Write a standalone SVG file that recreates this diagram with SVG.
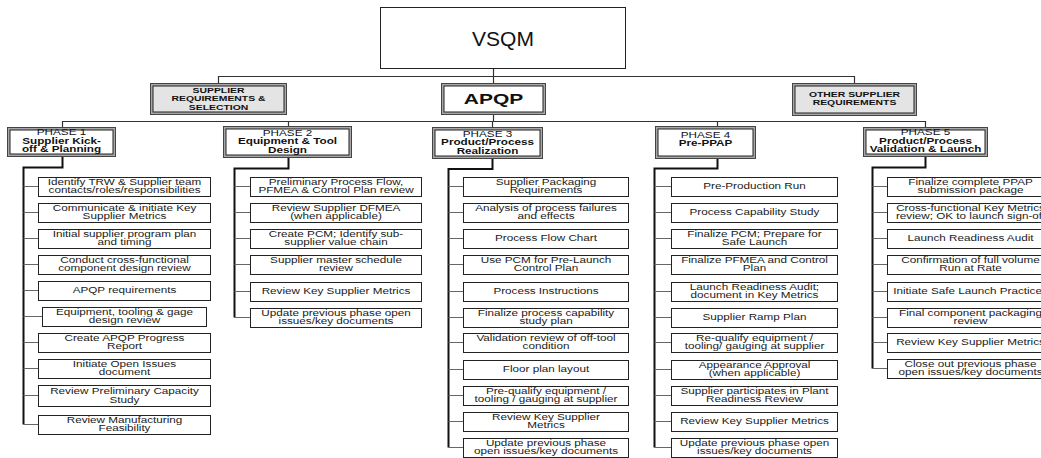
<svg xmlns="http://www.w3.org/2000/svg" width="1041" height="458" viewBox="0 0 1041 458">
<style>
.bg{fill:#fff}
.it rect{fill:#fff;stroke:#222;stroke-width:1}
.tx{font-family:"Liberation Sans",Arial,sans-serif;font-size:9px;fill:#1a1a1a;text-anchor:middle}
.ph .o{fill:#a8a8a8;stroke:#444;stroke-width:1}
.ph .i{fill:#fff;stroke:#222;stroke-width:1}
.gr .i{fill:#e4e4e4;stroke:#222;stroke-width:1}
.pt{font-family:"Liberation Sans",Arial,sans-serif;font-size:8.6px;fill:#111;text-anchor:middle}
.b{font-weight:bold}
.spine{fill:none;stroke:#111;stroke-width:2}
.br{fill:none;stroke:#666;stroke-width:1}
.ln{fill:none;stroke:#333;stroke-width:1.2}
</style>
<rect class="bg" x="0" y="0" width="1041" height="458"/>

<g id="connectors">
<path class="ln" d="M493.5 69V83 M218.5 83V76.5H854.5V83 M493.5 115V121.5 M62.5 127V121.5H925.5V127 M288.5 121.5V126 M492.5 121.5V127 M717.5 121.5V126"/>
<path class="spine" d="M62.5 157V167.5H23.5V424.5 M288.5 158V168.5H234.5V317.5 M492.5 159V169H448.5V447.5 M717.5 159V168.5H654.5V447.5 M925.5 157V167.5H872.5V368.5"/>
<path class="br" d="M23.5 186.5H38.5M23.5 212.5H38.5M23.5 238.5H38.5M23.5 264.5H38.5M23.5 290.5H38.5M23.5 316.5H42.5M23.5 342.5H38.5M23.5 368.5H38.5M23.5 395.5H38.5M23.5 424.5H38.5"/>
<path class="br" d="M234.5 186.5H250.5M234.5 212.5H250.5M234.5 238.5H250.5M234.5 264.5H250.5M234.5 291.5H250.5M234.5 317.5H250.5"/>
<path class="br" d="M448.5 186.5H463.5M448.5 212.5H463.5M448.5 238.5H463.5M448.5 264.5H463.5M448.5 291.5H463.5M448.5 317.5H463.5M448.5 342.5H463.5M448.5 369.5H463.5M448.5 395.5H463.5M448.5 421.5H463.5M448.5 447.5H463.5"/>
<path class="br" d="M654.5 186.5H671.5M654.5 212.5H671.5M654.5 238.5H671.5M654.5 264.5H671.5M654.5 291.5H671.5M654.5 317.5H671.5M654.5 342.5H671.5M654.5 369.5H671.5M654.5 395.5H671.5M654.5 421.5H671.5M654.5 447.5H671.5"/>
<path class="br" d="M872.5 186.5H887.5M872.5 212.5H887.5M872.5 238.5H887.5M872.5 264.5H887.5M872.5 291.5H887.5M872.5 317.5H887.5M872.5 342.5H887.5M872.5 368.5H887.5"/>
</g>

<g id="vsqm">
<rect x="380.5" y="7.5" width="245" height="61" fill="#fff" stroke="#222" stroke-width="1"/>
<text x="503" y="46" font-family="Liberation Sans,Arial,sans-serif" font-size="21" fill="#111" text-anchor="middle">VSQM</text>
</g>

<g id="supplier-req" class="ph gr">
<rect class="o" x="150.5" y="83.5" width="136" height="31"/>
<rect class="i" x="153" y="86" width="131" height="26"/>
<text class="pt b" transform="translate(218.5 0) scale(1.3 1)" style="font-size:8px"><tspan x="0" y="93">SUPPLIER</tspan><tspan x="0" y="101.5">REQUIREMENTS &amp;</tspan><tspan x="0" y="110">SELECTION</tspan></text>
</g>

<g id="apqp" class="ph">
<rect class="o" x="441.5" y="83.5" width="104" height="31"/>
<rect class="i" x="444" y="86" width="99" height="26"/>
<text class="pt b" transform="translate(493.5 0) scale(1.4 1)" style="font-size:15px"><tspan x="0" y="104.5">APQP</tspan></text>
</g>

<g id="other-req" class="ph gr">
<rect class="o" x="792.5" y="83.5" width="124" height="32"/>
<rect class="i" x="795" y="86" width="119" height="27"/>
<text class="pt b" transform="translate(854.5 0) scale(1.3 1)" style="font-size:8px"><tspan x="0" y="97">OTHER SUPPLIER</tspan><tspan x="0" y="105.5">REQUIREMENTS</tspan></text>
</g>

<g id="phase1" class="ph">
<rect class="o" x="7.5" y="127.5" width="108" height="29"/>
<rect class="i" x="10" y="130" width="103" height="24"/>
<text class="pt" transform="translate(61.5 0) scale(1.36 1)"><tspan x="0" y="135.5">PHASE 1</tspan><tspan class="b" x="0" y="144">Supplier Kick-</tspan><tspan class="b" x="0" y="152.5">off &amp; Planning</tspan></text>
</g>
<g id="phase2" class="ph">
<rect class="o" x="223.5" y="126.5" width="128" height="31"/>
<rect class="i" x="226" y="129" width="123" height="26"/>
<text class="pt" transform="translate(287.5 0) scale(1.36 1)"><tspan x="0" y="136">PHASE 2</tspan><tspan class="b" x="0" y="144.5">Equipment &amp; Tool</tspan><tspan class="b" x="0" y="153">Design</tspan></text>
</g>
<g id="phase3" class="ph">
<rect class="o" x="432.5" y="127.5" width="110" height="31"/>
<rect class="i" x="435" y="130" width="105" height="26"/>
<text class="pt" transform="translate(487.5 0) scale(1.36 1)"><tspan x="0" y="137">PHASE 3</tspan><tspan class="b" x="0" y="145.5">Product/Process</tspan><tspan class="b" x="0" y="154">Realization</tspan></text>
</g>
<g id="phase4" class="ph">
<rect class="o" x="655.5" y="126.5" width="100" height="32"/>
<rect class="i" x="658" y="129" width="95" height="27"/>
<text class="pt" transform="translate(705.5 0) scale(1.36 1)"><tspan x="0" y="138">PHASE 4</tspan><tspan class="b" x="0" y="146.5">Pre-PPAP</tspan></text>
</g>
<g id="phase5" class="ph">
<rect class="o" x="863.5" y="127.5" width="124" height="29"/>
<rect class="i" x="866" y="130" width="119" height="24"/>
<text class="pt" transform="translate(925.5 0) scale(1.36 1)"><tspan x="0" y="135.5">PHASE 5</tspan><tspan class="b" x="0" y="144">Product/Process</tspan><tspan class="b" x="0" y="152.5">Validation &amp; Launch</tspan></text>
</g>

<!-- Phase 1 items -->
<g id="p1i1" class="it"><rect x="38.5" y="177.5" width="172" height="19"/><text class="tx" transform="translate(124.5 0) scale(1.3 1)"><tspan x="0" y="185">Identify TRW &amp; Supplier team</tspan><tspan x="0" y="193.5">contacts/roles/responsibilities</tspan></text></g>
<g id="p1i2" class="it"><rect x="38.5" y="203.5" width="172" height="19"/><text class="tx" transform="translate(124.5 0) scale(1.3 1)"><tspan x="0" y="211">Communicate &amp; initiate Key</tspan><tspan x="0" y="219.5">Supplier Metrics</tspan></text></g>
<g id="p1i3" class="it"><rect x="38.5" y="229.5" width="172" height="19"/><text class="tx" transform="translate(124.5 0) scale(1.3 1)"><tspan x="0" y="237">Initial supplier program plan</tspan><tspan x="0" y="245.5">and timing</tspan></text></g>
<g id="p1i4" class="it"><rect x="38.5" y="255.5" width="172" height="19"/><text class="tx" transform="translate(124.5 0) scale(1.3 1)"><tspan x="0" y="263">Conduct cross-functional</tspan><tspan x="0" y="271.5">component design review</tspan></text></g>
<g id="p1i5" class="it"><rect x="38.5" y="281.5" width="172" height="19"/><text class="tx" transform="translate(124.5 0) scale(1.3 1)"><tspan x="0" y="293.5">APQP requirements</tspan></text></g>
<g id="p1i6" class="it"><rect x="42.5" y="307.5" width="164" height="19"/><text class="tx" transform="translate(124.5 0) scale(1.3 1)"><tspan x="0" y="315">Equipment, tooling &amp; gage</tspan><tspan x="0" y="323.5">design review</tspan></text></g>
<g id="p1i7" class="it"><rect x="38.5" y="333.5" width="172" height="19"/><text class="tx" transform="translate(124.5 0) scale(1.3 1)"><tspan x="0" y="341">Create APQP Progress</tspan><tspan x="0" y="349.5">Report</tspan></text></g>
<g id="p1i8" class="it"><rect x="38.5" y="359.5" width="172" height="19"/><text class="tx" transform="translate(124.5 0) scale(1.3 1)"><tspan x="0" y="367">Initiate Open Issues</tspan><tspan x="0" y="375.5">document</tspan></text></g>
<g id="p1i9" class="it"><rect x="38.5" y="385.5" width="172" height="21"/><text class="tx" transform="translate(124.5 0) scale(1.3 1)"><tspan x="0" y="394">Review Preliminary Capacity</tspan><tspan x="0" y="403">Study</tspan></text></g>
<g id="p1i10" class="it"><rect x="38.5" y="415.5" width="172" height="19"/><text class="tx" transform="translate(124.5 0) scale(1.3 1)"><tspan x="0" y="423">Review Manufacturing</tspan><tspan x="0" y="431.5">Feasibility</tspan></text></g>

<!-- Phase 2 items -->
<g id="p2i1" class="it"><rect x="250.5" y="177.5" width="171" height="19"/><text class="tx" transform="translate(336 0) scale(1.3 1)"><tspan x="0" y="185">Preliminary Process Flow,</tspan><tspan x="0" y="193.5">PFMEA &amp; Control Plan review</tspan></text></g>
<g id="p2i2" class="it"><rect x="250.5" y="203.5" width="171" height="19"/><text class="tx" transform="translate(336 0) scale(1.3 1)"><tspan x="0" y="211">Review Supplier DFMEA</tspan><tspan x="0" y="219.5">(when applicable)</tspan></text></g>
<g id="p2i3" class="it"><rect x="250.5" y="229.5" width="171" height="19"/><text class="tx" transform="translate(336 0) scale(1.3 1)"><tspan x="0" y="237">Create PCM; Identify sub-</tspan><tspan x="0" y="245.5">supplier value chain</tspan></text></g>
<g id="p2i4" class="it"><rect x="250.5" y="255.5" width="171" height="19"/><text class="tx" transform="translate(336 0) scale(1.3 1)"><tspan x="0" y="263">Supplier master schedule</tspan><tspan x="0" y="271.5">review</tspan></text></g>
<g id="p2i5" class="it"><rect x="250.5" y="282.5" width="171" height="19"/><text class="tx" transform="translate(336 0) scale(1.3 1)"><tspan x="0" y="294.5">Review Key Supplier Metrics</tspan></text></g>
<g id="p2i6" class="it"><rect x="250.5" y="308.5" width="171" height="19"/><text class="tx" transform="translate(336 0) scale(1.3 1)"><tspan x="0" y="316">Update previous phase open</tspan><tspan x="0" y="324.5">issues/key documents</tspan></text></g>

<!-- Phase 3 items -->
<g id="p3i1" class="it"><rect x="463.5" y="177.5" width="165" height="19"/><text class="tx" transform="translate(546 0) scale(1.3 1)"><tspan x="0" y="185">Supplier Packaging</tspan><tspan x="0" y="193.5">Requirements</tspan></text></g>
<g id="p3i2" class="it"><rect x="463.5" y="203.5" width="165" height="19"/><text class="tx" transform="translate(546 0) scale(1.3 1)"><tspan x="0" y="211">Analysis of process failures</tspan><tspan x="0" y="219.5">and effects</tspan></text></g>
<g id="p3i3" class="it"><rect x="463.5" y="229.5" width="165" height="19"/><text class="tx" transform="translate(546 0) scale(1.3 1)"><tspan x="0" y="241.5">Process Flow Chart</tspan></text></g>
<g id="p3i4" class="it"><rect x="463.5" y="255.5" width="165" height="19"/><text class="tx" transform="translate(546 0) scale(1.3 1)"><tspan x="0" y="263">Use PCM for Pre-Launch</tspan><tspan x="0" y="271.5">Control Plan</tspan></text></g>
<g id="p3i5" class="it"><rect x="463.5" y="282.5" width="165" height="19"/><text class="tx" transform="translate(546 0) scale(1.3 1)"><tspan x="0" y="294.5">Process Instructions</tspan></text></g>
<g id="p3i6" class="it"><rect x="463.5" y="308.5" width="165" height="19"/><text class="tx" transform="translate(546 0) scale(1.3 1)"><tspan x="0" y="316">Finalize process capability</tspan><tspan x="0" y="324.5">study plan</tspan></text></g>
<g id="p3i7" class="it"><rect x="463.5" y="333.5" width="165" height="19"/><text class="tx" transform="translate(546 0) scale(1.3 1)"><tspan x="0" y="341">Validation review of off-tool</tspan><tspan x="0" y="349.5">condition</tspan></text></g>
<g id="p3i8" class="it"><rect x="463.5" y="360.5" width="165" height="19"/><text class="tx" transform="translate(546 0) scale(1.3 1)"><tspan x="0" y="372.5">Floor plan layout</tspan></text></g>
<g id="p3i9" class="it"><rect x="463.5" y="386.5" width="165" height="19"/><text class="tx" transform="translate(546 0) scale(1.3 1)"><tspan x="0" y="394">Pre-qualify equipment /</tspan><tspan x="0" y="402.5">tooling / gauging at supplier</tspan></text></g>
<g id="p3i10" class="it"><rect x="463.5" y="412.5" width="165" height="19"/><text class="tx" transform="translate(546 0) scale(1.3 1)"><tspan x="0" y="420">Review Key Supplier</tspan><tspan x="0" y="428.5">Metrics</tspan></text></g>
<g id="p3i11" class="it"><rect x="463.5" y="438.5" width="165" height="19"/><text class="tx" transform="translate(546 0) scale(1.3 1)"><tspan x="0" y="446">Update previous phase</tspan><tspan x="0" y="454.5">open issues/key documents</tspan></text></g>

<!-- Phase 4 items -->
<g id="p4i1" class="it"><rect x="671.5" y="177.5" width="166" height="19"/><text class="tx" transform="translate(754.5 0) scale(1.3 1)"><tspan x="0" y="189.5">Pre-Production Run</tspan></text></g>
<g id="p4i2" class="it"><rect x="671.5" y="203.5" width="166" height="19"/><text class="tx" transform="translate(754.5 0) scale(1.3 1)"><tspan x="0" y="215.5">Process Capability Study</tspan></text></g>
<g id="p4i3" class="it"><rect x="671.5" y="229.5" width="166" height="19"/><text class="tx" transform="translate(754.5 0) scale(1.3 1)"><tspan x="0" y="237">Finalize PCM; Prepare for</tspan><tspan x="0" y="245.5">Safe Launch</tspan></text></g>
<g id="p4i4" class="it"><rect x="671.5" y="255.5" width="166" height="19"/><text class="tx" transform="translate(754.5 0) scale(1.3 1)"><tspan x="0" y="263">Finalize PFMEA and Control</tspan><tspan x="0" y="271.5">Plan</tspan></text></g>
<g id="p4i5" class="it"><rect x="671.5" y="282.5" width="166" height="19"/><text class="tx" transform="translate(754.5 0) scale(1.3 1)"><tspan x="0" y="290">Launch Readiness Audit;</tspan><tspan x="0" y="298.5">document in Key Metrics</tspan></text></g>
<g id="p4i6" class="it"><rect x="671.5" y="308.5" width="166" height="19"/><text class="tx" transform="translate(754.5 0) scale(1.3 1)"><tspan x="0" y="320.5">Supplier Ramp Plan</tspan></text></g>
<g id="p4i7" class="it"><rect x="671.5" y="333.5" width="166" height="19"/><text class="tx" transform="translate(754.5 0) scale(1.3 1)"><tspan x="0" y="341">Re-qualify equipment /</tspan><tspan x="0" y="349.5">tooling/ gauging at supplier</tspan></text></g>
<g id="p4i8" class="it"><rect x="671.5" y="360.5" width="166" height="19"/><text class="tx" transform="translate(754.5 0) scale(1.3 1)"><tspan x="0" y="368">Appearance Approval</tspan><tspan x="0" y="376.5">(when applicable)</tspan></text></g>
<g id="p4i9" class="it"><rect x="671.5" y="386.5" width="166" height="19"/><text class="tx" transform="translate(754.5 0) scale(1.3 1)"><tspan x="0" y="394">Supplier participates in Plant</tspan><tspan x="0" y="402.5">Readiness Review</tspan></text></g>
<g id="p4i10" class="it"><rect x="671.5" y="412.5" width="166" height="19"/><text class="tx" transform="translate(754.5 0) scale(1.3 1)"><tspan x="0" y="424.5">Review Key Supplier Metrics</tspan></text></g>
<g id="p4i11" class="it"><rect x="671.5" y="438.5" width="166" height="19"/><text class="tx" transform="translate(754.5 0) scale(1.3 1)"><tspan x="0" y="446">Update previous phase open</tspan><tspan x="0" y="454.5">issues/key documents</tspan></text></g>

<!-- Phase 5 items -->
<g id="p5i1" class="it"><rect x="887.5" y="177.5" width="166" height="19"/><text class="tx" transform="translate(970.5 0) scale(1.3 1)"><tspan x="0" y="185">Finalize complete PPAP</tspan><tspan x="0" y="193.5">submission package</tspan></text></g>
<g id="p5i2" class="it"><rect x="887.5" y="203.5" width="166" height="19"/><text class="tx" transform="translate(970.5 0) scale(1.3 1)"><tspan x="0" y="211">Cross-functional Key Metrics</tspan><tspan x="0" y="219.5">review; OK to launch sign-off</tspan></text></g>
<g id="p5i3" class="it"><rect x="887.5" y="229.5" width="166" height="19"/><text class="tx" transform="translate(970.5 0) scale(1.3 1)"><tspan x="0" y="241.5">Launch Readiness Audit</tspan></text></g>
<g id="p5i4" class="it"><rect x="887.5" y="255.5" width="166" height="19"/><text class="tx" transform="translate(970.5 0) scale(1.3 1)"><tspan x="0" y="263">Confirmation of full volume</tspan><tspan x="0" y="271.5">Run at Rate</tspan></text></g>
<g id="p5i5" class="it"><rect x="887.5" y="282.5" width="166" height="19"/><text class="tx" transform="translate(970.5 0) scale(1.3 1)"><tspan x="0" y="294.5">Initiate Safe Launch Practices</tspan></text></g>
<g id="p5i6" class="it"><rect x="887.5" y="308.5" width="166" height="19"/><text class="tx" transform="translate(970.5 0) scale(1.3 1)"><tspan x="0" y="316">Final component packaging</tspan><tspan x="0" y="324.5">review</tspan></text></g>
<g id="p5i7" class="it"><rect x="887.5" y="333.5" width="166" height="19"/><text class="tx" transform="translate(970.5 0) scale(1.3 1)"><tspan x="0" y="345.5">Review Key Supplier Metrics</tspan></text></g>
<g id="p5i8" class="it"><rect x="887.5" y="359.5" width="166" height="19"/><text class="tx" transform="translate(970.5 0) scale(1.3 1)"><tspan x="0" y="367">Close out previous phase</tspan><tspan x="0" y="375.5">open issues/key documents</tspan></text></g>
</svg>
